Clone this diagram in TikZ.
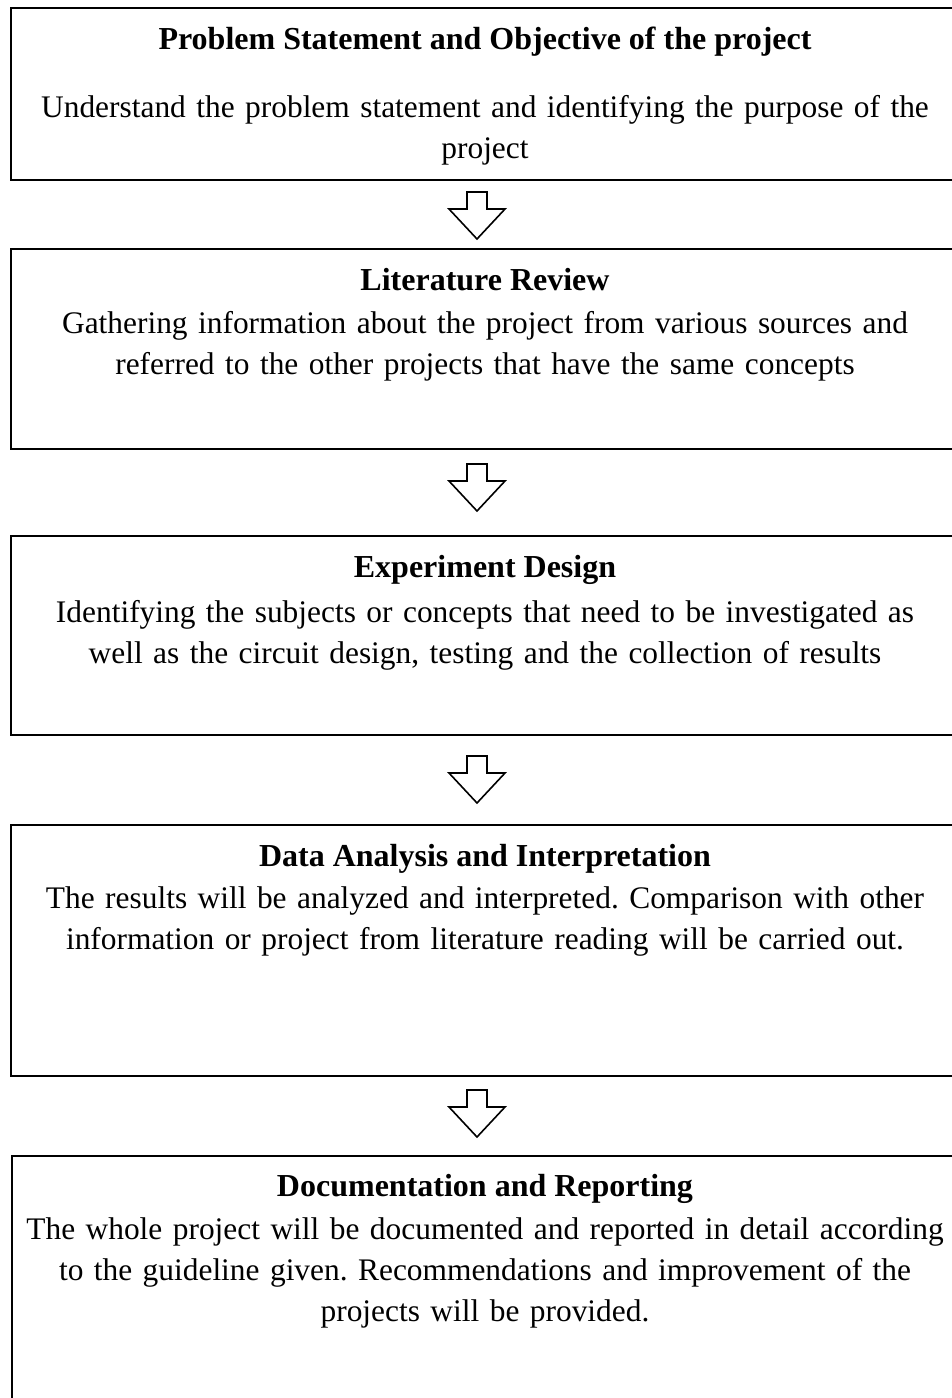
\documentclass[tikz,border=0pt]{standalone}
\usepackage{fontspec}
\setmainfont{Liberation Serif}
\frenchspacing
\begin{document}
\begin{tikzpicture}[x=0.5pt,y=-0.5pt,
  box/.style={draw,line width=1pt,anchor=north west,inner sep=0pt,minimum width=477.5pt},
  title/.style={anchor=base,inner sep=0pt,font=\fontsize{16}{20.5}\selectfont\bfseries},
  body/.style={anchor=base,inner sep=0pt,text width=480pt,align=center,font=\fontsize{15.7}{20.5}\selectfont},
  blockarrow/.pic={\draw[line width=0.8pt,line join=miter] (-10,0) -- (10,0) -- (10,17) -- (28,17) -- (0,47) -- (-28,17) -- (-10,17) -- cycle;}
]
\clip (0,0) rectangle (952,1398);
% boxes
\node[box,minimum height=86pt] (b1) at (10,7) {};
\node[box,minimum height=100pt] (b2) at (10,248) {};
\node[box,minimum height=99.5pt] (b3) at (10,535) {};
\node[box,minimum height=125.5pt] (b4) at (10,824) {};
\node[box,minimum height=140pt] (b5) at (11,1155) {};
% texts
\node[title] (t1) at (485,49) {Problem Statement and Objective of the project};
\node[body] (d1) at (485,117) {Understand the problem statement and identifying the purpose of the\\project};
\node[title] (t2) at (485,290) {Literature Review};
\node[body] (d2) at (485,333) {Gathering information about the project from various sources and\\referred to the other projects that have the same concepts};
\node[title] (t3) at (485,577) {Experiment Design};
\node[body] (d3) at (485,622) {Identifying the subjects or concepts that need to be investigated as\\well as the circuit design, testing and the collection of results};
\node[title] (t4) at (485,866) {Data Analysis and Interpretation};
\node[body] (d4) at (485,908) {The results will be analyzed and interpreted. Comparison with other\\information or project from literature reading will be carried out.};
\node[title] (t5) at (485,1196) {Documentation and Reporting};
\node[body] (d5) at (485,1239) {The whole project will be documented and reported in detail according\\to the guideline given. Recommendations and improvement of the\\projects will be provided.};
% block arrows
\pic at (477,192) {blockarrow};
\pic at (477,464) {blockarrow};
\pic at (477,756) {blockarrow};
\pic at (477,1090) {blockarrow};
\end{tikzpicture}
\end{document}
